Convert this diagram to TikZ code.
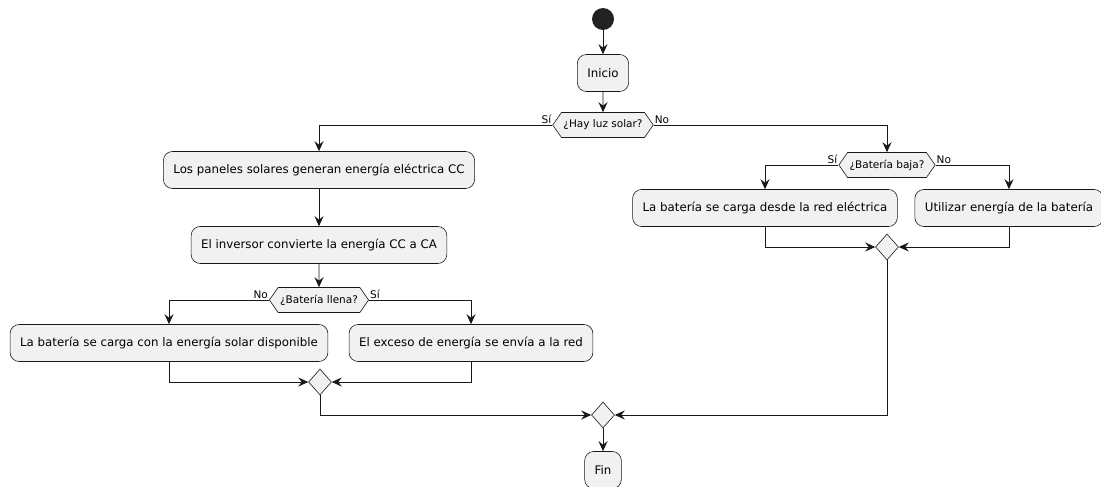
\documentclass[tikz,border=0pt]{standalone}
\usepackage{fontspec}
\setmainfont{DejaVu Sans}
\usetikzlibrary{arrows.meta,shapes.symbols,shapes.geometric}
\definecolor{lc}{HTML}{181818}
\definecolor{boxfill}{HTML}{F1F1F1}
\definecolor{startc}{HTML}{222222}
\begin{document}
\begin{tikzpicture}[x=1pt,y=-1pt,
  act/.style={draw=lc, fill=boxfill, rounded corners=9pt, line width=0.6pt, font=\fontsize{11.8}{14}\selectfont, inner xsep=10pt, minimum height=37pt},
  dec/.style={draw=lc, fill=boxfill, shape=signal, signal to=east and west, signal pointer angle=110, font=\fontsize{10.5}{12}\selectfont, minimum height=25pt, inner xsep=2pt, line width=0.6pt},
  mrg/.style={draw=lc, fill=boxfill, diamond, minimum width=23pt, minimum height=26pt, inner sep=0pt, line width=0.6pt},
  lbl/.style={font=\fontsize{10.5}{12}\selectfont, inner sep=1pt},
  flow/.style={draw=lc, line width=0.8pt, -{Stealth[length=10pt,width=9pt,inset=3.5pt]}},
]
\useasboundingbox (0,0) rectangle (1101,487);
\node[circle, fill=startc, minimum size=22pt, inner sep=0pt] (start) at (603,19) {};
\node[act] (inicio) at (603,73) {Inicio};
\node[dec] (d1) at (603,125) {¿Hay luz solar?};
\node[act] (p1) at (319,170) {Los paneles solares generan energía eléctrica CC};
\node[act] (p2) at (319,245) {El inversor convierte la energía CC a CA};
\node[dec] (d2) at (319,300) {¿Batería llena?};
\node[act] (a1) at (169,343) {La batería se carga con la energía solar disponible};
\node[act] (a2) at (471,343) {El exceso de energía se envía a la red};
\node[mrg] (m1) at (320,382) {};
\node[dec] (d3) at (887,165) {¿Batería baja?};
\node[act] (b1) at (765,208) {La batería se carga desde la red eléctrica};
\node[act] (b2) at (1009,208) {Utilizar energía de la batería};
\node[mrg] (m2) at (887,247) {};
\node[mrg] (m3) at (603,415) {};
\node[act] (fin) at (603,470) {Fin};

\node[lbl, anchor=south east] (l1) at (d1.west) {Sí};
\node[lbl, anchor=south west] (l2) at (d1.east) {No};
\node[lbl, anchor=south east] (l3) at (d2.west) {No};
\node[lbl, anchor=south west] (l4) at (d2.east) {Sí};
\node[lbl, anchor=south east] (l5) at (d3.west) {Sí};
\node[lbl, anchor=south west] (l6) at (d3.east) {No};

\draw[flow] (start) -- (inicio);
\draw[flow] (inicio) -- (d1);
\draw[flow] (d1.west) -| (p1);
\draw[flow] (d1.east) -| (d3);
\draw[flow] (p1) -- (p2);
\draw[flow] (p2) -- (d2);
\draw[flow] (d2.west) -| (a1);
\draw[flow] (d2.east) -| (a2);
\draw[flow] (a1.south) |- (m1.west);
\draw[flow] (a2.south) |- (m1.east);
\draw[flow] (m1.south) |- (m3.west);
\draw[flow] (d3.west) -| (b1);
\draw[flow] (d3.east) -| (b2);
\draw[flow] (b1.south) |- (m2.west);
\draw[flow] (b2.south) |- (m2.east);
\draw[flow] (m2.south) |- (m3.east);
\draw[flow] (m3) -- (fin);
\end{tikzpicture}
\end{document}
